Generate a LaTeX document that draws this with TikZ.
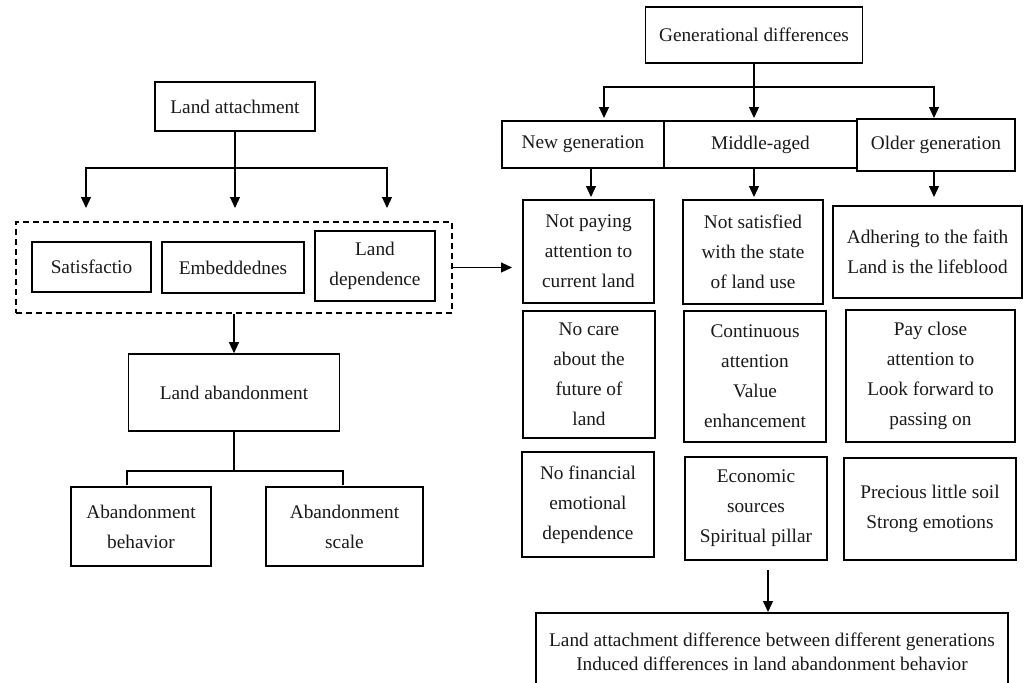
\documentclass[tikz,border=0pt]{standalone}
\usepackage{fontspec}
\setmainfont{Liberation Serif}
\usetikzlibrary{arrows.meta}
\begin{document}
\begin{tikzpicture}[x=1pt,y=-1pt,
  box/.style={draw, line width=1.6pt, align=center, inner sep=0pt, text=black!90, font=\fontsize{19.3}{30}\selectfont},
  dbox/.style={draw, line width=1.6pt, dash pattern=on 6pt off 4pt, inner sep=0pt},
  arr/.style={line width=1.2pt, -{Triangle[length=11pt,width=10pt]}},
  ln/.style={line width=1.2pt}]
\useasboundingbox (0,0) rectangle (1026,683);
\clip (0,0) rectangle (1026,683);
% left part
\node[box, minimum width=160pt, minimum height=49pt] (la) at (235,106.5) {Land attachment};
\node[dbox, minimum width=436pt, minimum height=91pt] (dash) at (234,267.5) {};
\node[box, minimum width=119pt, minimum height=50pt] (sat) at (91.5,267) {Satisfactio};
\node[box, minimum width=142pt, minimum height=51pt] (emb) at (233,267.5) {Embeddednes};
\node[box, minimum width=120pt, minimum height=70pt] (ldep) at (375,266) {Land\\dependence};
\node[box, minimum width=211pt, minimum height=77pt] (lab) at (234,392.5) {Land abandonment};
\node[box, minimum width=140pt, minimum height=79pt] (ab1) at (141,526.5) {Abandonment\\behavior};
\node[box, minimum width=157pt, minimum height=79pt] (ab2) at (344.5,526.5) {Abandonment\\scale};
% right part
\node[box, minimum width=217pt, minimum height=56pt] (gd) at (754,35) {Generational differences};
\node[box, minimum width=162pt, minimum height=47pt] (ng) at (583,144.5) {New generation};
\node[box, minimum width=193pt, minimum height=47pt] (ma) at (760.5,144.5) {Middle-aged};
\node[box, minimum width=158pt, minimum height=52pt] (og) at (936,145) {Older generation};
\node[box, minimum width=131pt, minimum height=103pt] (r1a) at (588.5,251.5) {Not paying\\attention to\\current land};
\node[box, minimum width=140pt, minimum height=104pt] (r1b) at (753,252) {Not satisfied\\with the state\\of land use};
\node[box, minimum width=189pt, minimum height=92pt] (r1c) at (927.5,252) {Adhering to the faith\\Land is the lifeblood};
\node[box, minimum width=132pt, minimum height=127pt] (r2a) at (589,374.5) {No care\\about the\\future of\\land};
\node[box, minimum width=142pt, minimum height=131pt] (r2b) at (755,376.5) {Continuous\\attention\\Value\\enhancement};
\node[box, minimum width=169pt, minimum height=132pt] (r2c) at (930.5,376) {Pay close\\attention to\\Look forward to\\passing on};
\node[box, minimum width=132pt, minimum height=105pt] (r3a) at (588,504.5) {No financial\\emotional\\dependence};
\node[box, minimum width=142pt, minimum height=103pt] (r3b) at (756,508.5) {Economic\\sources\\Spiritual pillar};
\node[box, minimum width=172pt, minimum height=102pt] (r3c) at (930,509) {Precious little soil\\Strong emotions};
\node[box, font=\fontsize{19.3}{24}\selectfont, minimum width=472pt, minimum height=78pt] (fin) at (772,652) {Land attachment difference between different generations\\Induced differences in land abandonment behavior};
% connectors left
\coordinate (j1) at (235,168);
\coordinate (t1) at (86,208);
\coordinate (t2) at (235,208);
\coordinate (t3) at (387,208);
\draw[ln] (la.south) -- (j1);
\draw[arr] (j1) -| (t1);
\draw[arr] (j1) -- (t2);
\draw[arr] (j1) -| (t3);
\coordinate (t4) at (512,267.5);
\draw[arr] (dash.east) -- (t4);
\draw[arr] (dash.south) -- (lab.north);
\coordinate (j2) at (234,471);
\coordinate (k1) at (127,485);
\coordinate (k2) at (343,485);
\draw[ln] (lab.south) -- (j2);
\draw[ln] (j2) -| (k1);
\draw[ln] (j2) -| (k2);
% connectors right
\coordinate (j3) at (754,87);
\coordinate (u1) at (604,118);
\coordinate (u2) at (754,118);
\coordinate (u3) at (934,118);
\draw[ln] (gd.south) -- (j3);
\draw[arr] (j3) -| (u1);
\draw[arr] (j3) -- (u2);
\draw[arr] (j3) -| (u3);
\coordinate (v1) at (591,197);
\coordinate (v2) at (754,197);
\coordinate (v3) at (934,197);
\draw[arr] (ng.south -| v1) -- (v1);
\draw[arr] (ma.south -| v2) -- (v2);
\draw[arr] (og.south -| v3) -- (v3);
\coordinate (w0) at (768,570);
\coordinate (w1) at (768,612);
\draw[arr] (w0) -- (w1);
\end{tikzpicture}
\end{document}
